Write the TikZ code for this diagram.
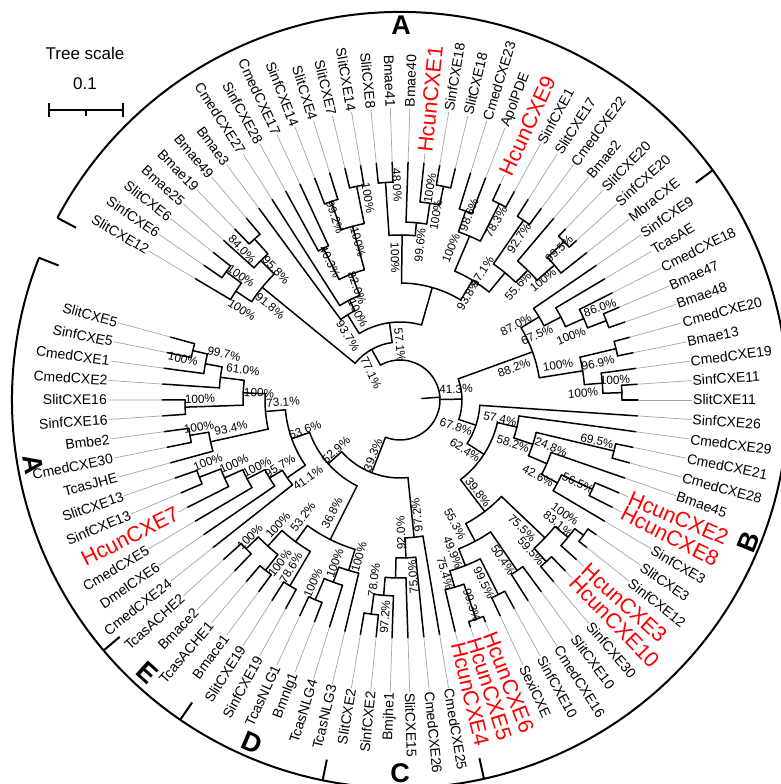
\documentclass[tikz,border=0pt]{standalone}
\usepackage{fontspec}
\setmainfont{Liberation Sans}
\newcommand\tArc[3]{\draw[br] (#2:#1) arc[start angle=#2,end angle=#3,radius=#1];}
\newcommand\tRad[3]{\draw[br] (#1:#2) -- (#1:#3);}
\newcommand\lfR[3]{\draw[br] (#1:#2) -- (#1:238);\draw[gl] (#1:238) -- (#1:292);\node[lf,anchor=west,rotate=#1] at (#1:292) {#3};}
\newcommand\lfL[3]{\draw[br] (#1:#2) -- (#1:238);\draw[gl] (#1:238) -- (#1:292);\node[lf,anchor=east,rotate=#1-180] at (#1:292) {#3};}
\newcommand\hcR[3]{\draw[br] (#1:#2) -- (#1:238);\draw[gl] (#1:238) -- (#1:248);\node[hl,anchor=west,rotate=#1] at (#1:248) {#3};}
\newcommand\hcL[3]{\draw[br] (#1:#2) -- (#1:238);\draw[gl] (#1:238) -- (#1:248);\node[hl,anchor=east,rotate=#1-180] at (#1:248) {#3};}
\newcommand\pc[4]{\node[pct,rotate=#3] at (#1,{784-#2}) {#4};}
\begin{document}
\begin{tikzpicture}[x=1pt,y=1pt,
  br/.style={line width=1.5pt,line cap=round},
  gl/.style={line width=0.7pt,draw=black!35},
  lf/.style={font=\fontsize{14}{16}\selectfont,inner sep=1pt},
  hl/.style={font=\fontsize{21.5}{24}\selectfont,text=red,inner sep=1pt},
  pct/.style={font=\fontsize{11.8}{13}\selectfont,inner sep=0pt},
  cl/.style={font=\fontsize{27}{30}\selectfont\bfseries,inner sep=0pt},
  bk/.style={line width=2pt}]
\useasboundingbox (0,0) rectangle (781,784);
\fill[white] (0,0) rectangle (781,784);
\begin{scope}[shift={(400,384)}]
% root
\draw[br] (4:22) -- (4:40);
\tArc{40}{119.25}{-111.28}
% radial branches of internal nodes
\tRad{119.25}{40}{58}
\tRad{0.79}{40}{62}
\tRad{-111.28}{40}{78}
\tRad{19.96}{62}{141}
\tRad{-18.375}{62}{80}
\tRad{30.85}{141}{162}
\tRad{9.07}{141}{185}
\tRad{27.26}{162}{181}
\tRad{23.9}{181}{201}
\tRad{21.035}{201}{221}
\tRad{13.375}{185}{222}
\tRad{4.765}{185}{203}
\tRad{1.9}{203}{222}
\tRad{-32.92}{80}{100}
\tRad{-13.05}{100}{120}
\tRad{-52.78}{100}{140}
\tRad{-18.43}{120}{140}
\tRad{-13.405}{140}{220}
\tRad{-23.46}{140}{160}
\tRad{-27.77}{160}{178}
\tRad{-24.895}{178}{212}
\tRad{-43.57}{140}{200}
\tRad{-62.0}{140}{160}
\tRad{-39.26}{200}{217}
\tRad{-36.385}{217}{228}
\tRad{-47.875}{200}{218}
\tRad{-55.535}{160}{207}
\tRad{-68.46}{160}{178}
\tRad{-63.195}{178}{218}
\tRad{-73.73}{178}{195}
\tRad{-70.855}{195}{232}
\tRad{-84.14}{78}{138}
\tRad{-87.85}{138}{158}
\tRad{-91.44}{158}{178}
\tRad{-94.79}{178}{196}
\tRad{-97.665}{196}{216}
\tRad{-138.415}{78}{96}
\tRad{-116.57}{96}{156}
\tRad{-126.39}{156}{176}
\tRad{-132.135}{176}{197}
\tRad{-135.965}{197}{214}
\tRad{-128.305}{197}{217}
\tRad{-120.645}{176}{216}
\tRad{-106.765}{156}{178}
\tRad{-110.11}{178}{194}
\tRad{-112.985}{194}{217}
\tRad{199.74}{96}{115}
\tRad{184.9}{115}{135}
\tRad{214.58}{115}{137}
\tRad{177.36}{135}{157}
\tRad{192.44}{135}{194}
\tRad{172.81}{157}{181}
\tRad{181.905}{157}{215}
\tRad{169.46}{181}{198}
\tRad{166.585}{198}{213}
\tRad{189.565}{194}{213}
\tRad{210.87}{137}{152}
\tRad{207.28}{152}{172}
\tRad{203.93}{172}{192}
\tRad{201.055}{192}{215}
\tRad{140.72}{58}{178}
\tRad{97.785}{58}{78}
\tRad{134.98}{178}{197}
\tRad{146.47}{178}{197}
\tRad{132.105}{197}{217}
\tRad{143.595}{197}{216}
\tRad{121.57}{78}{100}
\tRad{74.0}{78}{117}
\tRad{116.785}{100}{112}
\tRad{111.04}{112}{135}
\tRad{116.785}{135}{170}
\tRad{105.295}{135}{180}
\tRad{109.125}{180}{210}
\tRad{101.465}{180}{218}
\tRad{89.26}{117}{165}
\tRad{58.74}{117}{140}
\tRad{93.805}{165}{218}
\tRad{84.71}{165}{178}
\tRad{81.36}{178}{199}
\tRad{78.485}{199}{218}
\tRad{66.995}{140}{178}
\tRad{50.48}{140}{165}
\tRad{70.825}{178}{200}
\tRad{63.165}{178}{220}
\tRad{55.505}{165}{218}
\tRad{45.45}{165}{182}
\tRad{41.14}{182}{205}
\tRad{44.015}{205}{228}
% arcs of internal nodes
\tArc{62}{19.96}{-18.375}
\tArc{141}{30.85}{9.07}
\tArc{162}{34.44}{27.26}
\tArc{181}{30.61}{23.9}
\tArc{201}{26.78}{21.035}
\tArc{221}{22.95}{19.12}
\tArc{185}{13.375}{4.765}
\tArc{222}{15.29}{11.46}
\tArc{203}{7.63}{1.9}
\tArc{222}{3.8}{0}
\tArc{80}{-3.83}{-32.92}
\tArc{100}{-13.05}{-52.78}
\tArc{120}{-7.66}{-18.43}
\tArc{140}{-13.405}{-23.46}
\tArc{220}{-11.49}{-15.32}
\tArc{160}{-19.15}{-27.77}
\tArc{178}{-24.895}{-30.64}
\tArc{212}{-22.98}{-26.81}
\tArc{140}{-43.57}{-62.0}
\tArc{200}{-39.26}{-47.875}
\tArc{217}{-36.385}{-42.13}
\tArc{228}{-34.47}{-38.3}
\tArc{218}{-45.96}{-49.79}
\tArc{160}{-55.535}{-68.46}
\tArc{207}{-53.62}{-57.45}
\tArc{178}{-63.195}{-73.73}
\tArc{218}{-61.28}{-65.11}
\tArc{195}{-70.855}{-76.6}
\tArc{232}{-68.94}{-72.77}
\tArc{78}{-84.14}{-138.415}
\tArc{138}{-80.43}{-87.85}
\tArc{158}{-84.26}{-91.44}
\tArc{178}{-88.09}{-94.79}
\tArc{196}{-91.92}{-97.665}
\tArc{216}{-95.75}{-99.58}
\tArc{96}{-116.57}{-160.26}
\tArc{156}{-106.765}{-126.39}
\tArc{176}{-120.645}{-132.135}
\tArc{197}{-128.305}{-135.965}
\tArc{214}{-134.05}{-137.88}
\tArc{217}{-126.39}{-130.22}
\tArc{216}{-118.73}{-122.56}
\tArc{178}{-103.41}{-110.11}
\tArc{194}{-107.24}{-112.985}
\tArc{217}{-111.07}{-114.9}
\tArc{115}{184.9}{214.58}
\tArc{135}{177.36}{192.44}
\tArc{157}{172.81}{181.905}
\tArc{181}{169.46}{176.16}
\tArc{198}{166.585}{172.33}
\tArc{213}{164.67}{168.5}
\tArc{215}{179.99}{183.82}
\tArc{194}{189.565}{195.31}
\tArc{213}{187.65}{191.48}
\tArc{137}{210.87}{218.29}
\tArc{152}{207.28}{214.46}
\tArc{172}{203.93}{210.63}
\tArc{192}{201.055}{206.8}
\tArc{215}{199.14}{202.97}
\tArc{58}{97.785}{140.72}
\tArc{178}{134.98}{146.47}
\tArc{197}{132.105}{137.85}
\tArc{217}{130.19}{134.02}
\tArc{197}{143.595}{149.34}
\tArc{216}{141.68}{145.51}
\tArc{78}{74.0}{121.57}
\tArc{100}{116.785}{126.36}
\tArc{112}{111.04}{122.53}
\tArc{135}{105.295}{116.785}
\tArc{170}{114.87}{118.7}
\tArc{180}{101.465}{109.125}
\tArc{210}{107.21}{111.04}
\tArc{218}{99.55}{103.38}
\tArc{117}{58.74}{89.26}
\tArc{165}{84.71}{93.805}
\tArc{218}{91.89}{95.72}
\tArc{178}{81.36}{88.06}
\tArc{199}{78.485}{84.23}
\tArc{218}{76.57}{80.4}
\tArc{140}{50.48}{66.995}
\tArc{178}{63.165}{70.825}
\tArc{200}{68.91}{72.74}
\tArc{220}{61.25}{65.08}
\tArc{165}{45.45}{55.505}
\tArc{218}{53.59}{57.42}
\tArc{182}{41.14}{49.76}
\tArc{205}{38.27}{44.015}
\tArc{228}{42.1}{45.93}
% leaves
\lfR{0}{222}{SlitCXE11}
\lfR{-3.83}{80}{SinfCXE26}
\lfR{-7.66}{120}{CmedCXE29}
\lfR{-11.49}{220}{CmedCXE21}
\lfR{-15.32}{220}{CmedCXE28}
\lfR{-19.15}{160}{Bmae45}
\hcR{-22.98}{212}{HcunCXE2}
\hcR{-26.81}{212}{HcunCXE8}
\lfR{-30.64}{178}{SinfCXE3}
\lfR{-34.47}{228}{SlitCXE3}
\lfR{-38.30}{228}{SinfCXE12}
\hcR{-42.13}{217}{HcunCXE3}
\hcR{-45.96}{218}{HcunCXE10}
\lfR{-49.79}{218}{SinfCXE30}
\lfR{-53.62}{207}{SlitCXE10}
\lfR{-57.45}{207}{CmedCXE16}
\lfR{-61.28}{218}{SinfCXE10}
\lfR{-65.11}{218}{SexiCXE}
\hcR{-68.94}{232}{HcunCXE6}
\hcR{-72.77}{232}{HcunCXE5}
\hcR{-76.60}{195}{HcunCXE4}
\lfR{-80.43}{138}{CmedCXE25}
\lfR{-84.26}{158}{CmedCXE26}
\lfR{-88.09}{178}{SlitCXE15}
\lfL{-91.92}{196}{Bmjhe1}
\lfL{-95.75}{216}{SinfCXE2}
\lfL{-99.58}{216}{SlitCXE2}
\lfL{-103.41}{178}{TcasNLG3}
\lfL{-107.24}{194}{TcasNLG4}
\lfL{-111.07}{217}{Bmnlg1}
\lfL{-114.90}{217}{TcasNLG1}
\lfL{-118.73}{216}{SinfCXE19}
\lfL{-122.56}{216}{SlitCXE19}
\lfL{-126.39}{217}{Bmace1}
\lfL{-130.22}{217}{TcasACHE1}
\lfL{-134.05}{214}{Bmace2}
\lfL{-137.88}{214}{TcasACHE2}
\lfL{218.29}{137}{CmedCXE24}
\lfL{214.46}{152}{DmelCXE6}
\lfL{210.63}{172}{CmedCXE5}
\hcL{206.80}{192}{HcunCXE7}
\lfL{202.97}{215}{SinfCXE13}
\lfL{199.14}{215}{SlitCXE13}
\lfL{195.31}{194}{TcasJHE}
\lfL{191.48}{213}{CmedCXE30}
\lfL{187.65}{213}{Bmbe2}
\lfL{183.82}{215}{SinfCXE16}
\lfL{179.99}{215}{SlitCXE16}
\lfL{176.16}{181}{CmedCXE2}
\lfL{172.33}{198}{CmedCXE1}
\lfL{168.50}{213}{SinfCXE5}
\lfL{164.67}{213}{SlitCXE5}
\lfL{149.34}{197}{SlitCXE12}
\lfL{145.51}{216}{SinfCXE6}
\lfL{141.68}{216}{SlitCXE6}
\lfL{137.85}{197}{Bmae25}
\lfL{134.02}{217}{Bmae19}
\lfL{130.19}{217}{Bmae49}
\lfL{126.36}{100}{Bmae3}
\lfL{122.53}{112}{CmedCXE27}
\lfL{118.70}{170}{SinfCXE28}
\lfL{114.87}{170}{CmedCXE17}
\lfL{111.04}{210}{SinfCXE14}
\lfL{107.21}{210}{SlitCXE4}
\lfL{103.38}{218}{SlitCXE7}
\lfL{99.55}{218}{SlitCXE14}
\lfL{95.72}{218}{SlitCXE8}
\lfL{91.89}{218}{Bmae41}
\lfR{88.06}{178}{Bmae40}
\hcR{84.23}{199}{HcunCXE1}
\lfR{80.40}{218}{SinfCXE18}
\lfR{76.57}{218}{SlitCXE18}
\lfR{72.74}{200}{CmedCXE23}
\lfR{68.91}{200}{ApolPDE}
\hcR{65.08}{220}{HcunCXE9}
\lfR{61.25}{220}{SinfCXE1}
\lfR{57.42}{218}{SlitCXE17}
\lfR{53.59}{218}{CmedCXE22}
\lfR{49.76}{182}{Bmae2}
\lfR{45.93}{228}{SlitCXE20}
\lfR{42.10}{228}{SinfCXE20}
\lfR{38.27}{205}{MbraCXE}
\lfR{34.44}{162}{SinfCXE9}
\lfR{30.61}{181}{TcasAE}
\lfR{26.78}{201}{CmedCXE18}
\lfR{22.95}{221}{Bmae47}
\lfR{19.12}{221}{Bmae48}
\lfR{15.29}{222}{CmedCXE20}
\lfR{11.46}{222}{Bmae13}
\lfR{7.63}{203}{CmedCXE19}
\lfR{3.80}{222}{SinfCXE11}
% clade brackets
\draw[bk] (152:388) arc[start angle=152,end angle=-201.5,radius=388];
\foreach \a in {152,36.3,-77.5,-101.5,-124.5,-139.8,158.5} \draw[bk] (\a:367) -- (\a:388);
\end{scope}
% clade letters
\node[cl] (cA1) at (401,{784-25}) {A};
\node[cl,rotate=68] (cB) at (749,{784-542}) {B};
\node[cl] (cC) at (400,{784-773}) {C};
\node[cl,rotate=-23] (cD) at (252,{784-743}) {D};
\node[cl,rotate=-42] (cE) at (147,{784-673}) {E};
\node[cl,rotate=-80] (cA2) at (33,{784-464}) {A};
% tree scale
\node[font=\fontsize{17}{19}\selectfont,inner sep=0pt] (ts) at (85,{784-53}) {Tree scale};
\node[font=\fontsize{17}{19}\selectfont,inner sep=0pt] (tv) at (85,{784-84}) {0.1};
\draw[line width=1.5pt] (49,{784-110}) -- (123,{784-110});
\draw[line width=1.5pt] (49,{784-103}) -- (49,{784-117});
\draw[line width=1.5pt] (123,{784-103}) -- (123,{784-117});
\draw[line width=1.5pt] (86,{784-110}) -- (86,{784-116});
% support values
\pc{456}{389}{1}{41.3\%}
\pc{514}{368}{20}{88.2\%}
\pc{516}{325}{28}{87.0\%}
\pc{537}{335}{24}{67.5\%}
\pc{571}{336}{22}{100\%}
\pc{600}{308}{18}{86.0\%}
\pc{558}{365}{9}{100\%}
\pc{598}{363}{13}{96.9\%}
\pc{583}{393}{5}{100\%}
\pc{615}{380}{2}{100\%}
\pc{456}{427}{-18}{67.8\%}
\pc{465}{450}{-33}{62.4\%}
\pc{500}{419}{-12}{57.4\%}
\pc{513}{444}{-18}{58.2\%}
\pc{551}{447}{-22}{24.8\%}
\pc{597}{441}{-13}{69.5\%}
\pc{538}{476}{-28}{42.6\%}
\pc{578}{483}{-25}{56.5\%}
\pc{565}{514}{-36}{100\%}
\pc{558}{524}{-39}{83.1\%}
\pc{478}{492}{-53}{39.8\%}
\pc{522}{528}{-44}{75.5\%}
\pc{531}{551}{-48}{59.5\%}
\pc{455}{524}{-62}{55.3\%}
\pc{453}{552}{-68}{49.9\%}
\pc{503}{560}{-56}{50.4\%}
\pc{484}{583}{-63}{99.5\%}
\pc{445}{573}{-74}{75.4\%}
\pc{472}{605}{-71}{99.3\%}
\pc{417}{515}{96}{97.2\%}
\pc{401}{533}{92}{92.0\%}
\pc{413}{577}{94}{75.0\%}
\pc{374}{580}{83}{78.0\%}
\pc{385}{617}{86}{97.2\%}
\pc{373}{455}{69}{39.3\%}
\pc{336}{450}{42}{52.9\%}
\pc{332}{513}{63}{36.8\%}
\pc{303}{517}{53}{53.2\%}
\pc{278}{525}{48}{100\%}
\pc{250}{537}{44}{100\%}
\pc{280}{563}{52}{100\%}
\pc{291}{568}{59}{78.6\%}
\pc{313}{583}{66}{100\%}
\pc{335}{563}{70}{100\%}
\pc{359}{557}{74}{100\%}
\pc{305}{430}{20}{63.6\%}
\pc{308}{478}{35}{41.1\%}
\pc{280}{466}{31}{95.7\%}
\pc{257}{467}{27}{100\%}
\pc{234}{464}{24}{100\%}
\pc{208}{462}{21}{100\%}
\pc{283}{402}{4}{73.1\%}
\pc{231}{428}{12}{93.4\%}
\pc{199}{427}{9}{100\%}
\pc{259}{393}{-3}{100\%}
\pc{200}{399}{2}{100\%}
\pc{243}{370}{-8}{61.0\%}
\pc{224}{354}{-12}{99.7\%}
\pc{183}{359}{-12}{100\%}
\pc{371}{373}{-64}{77.1\%}
\pc{400}{345}{-84}{57.1\%}
\pc{348}{336}{-58}{93.7\%}
\pc{270}{306}{-39}{91.8\%}
\pc{276}{270}{-47}{95.8\%}
\pc{242}{249}{-47}{84.0\%}
\pc{241}{276}{-36}{100\%}
\pc{242}{310}{-33}{100\%}
\pc{358}{313}{-64}{100\%}
\pc{357}{288}{-69}{82.0\%}
\pc{330}{262}{-63}{40.3\%}
\pc{358}{242}{-75}{100\%}
\pc{335}{217}{-71}{99.2\%}
\pc{368}{198}{-80}{100\%}
\pc{397}{185}{-87}{48.0\%}
\pc{395}{258}{-89}{100\%}
\pc{420}{245}{84}{99.6\%}
\pc{436}{215}{80}{100\%}
\pc{430}{188}{81}{100\%}
\pc{468}{295}{60}{93.8\%}
\pc{482}{272}{57}{97.1\%}
\pc{451}{248}{68}{100\%}
\pc{469}{215}{68}{98.6\%}
\pc{496}{222}{60}{78.3\%}
\pc{519}{238}{56}{92.7\%}
\pc{518}{286}{48}{55.6\%}
\pc{543}{280}{40}{100\%}
\pc{559}{249}{44}{99.5\%}
\end{tikzpicture}
\end{document}
